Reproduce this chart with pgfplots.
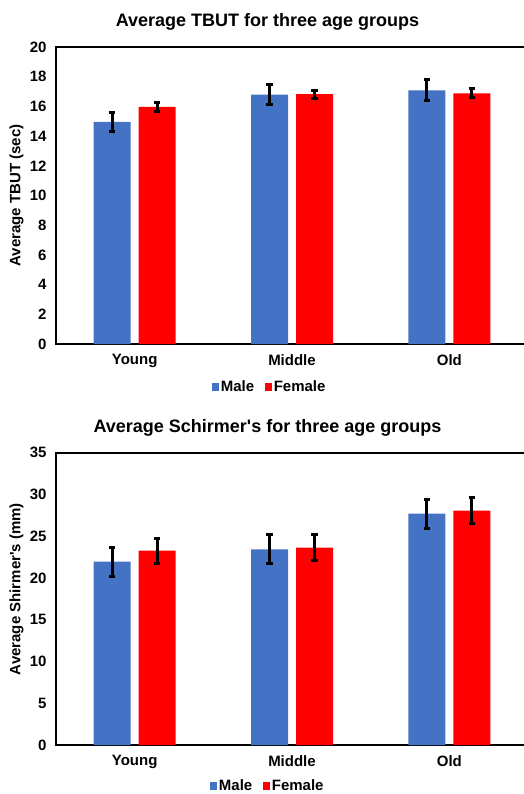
\documentclass[border=0pt]{standalone}
\usepackage{fontspec}
\setmainfont{Liberation Sans}
\usepackage{pgfplots}
\pgfplotsset{compat=1.18}
\definecolor{mblue}{HTML}{4472C4}
\definecolor{fred}{HTML}{FF0000}
\pgfplotsset{
  mystyle/.style={
    scale only axis, width=472bp,
    xmin=-0.5, xmax=2.5, ymin=0,
    ybar=8bp, bar width=37bp,
    xtick={0,1,2}, xticklabels={Young,Middle,Old},
    axis line style={line width=2bp, black},
    major tick length=0pt,
    /pgf/number format/assume math mode=true,
    ticklabel style={font=\fontsize{15bp}{18bp}\selectfont\bfseries},
    y tick label style={xshift=-6bp},
    x tick label style={yshift=-7bp},
    ylabel style={font=\fontsize{15bp}{18bp}\selectfont\bfseries},
    title style={font=\fontsize{18bp}{21bp}\selectfont\bfseries},
    legend style={draw=none, font=\fontsize{15bp}{18bp}\selectfont\bfseries,
      legend columns=2, nodes={inner sep=1.5bp},
      /tikz/every even column/.append style={column sep=9bp}},
    legend image code/.code={\fill[##1] (0bp,-3.8bp) rectangle (7.6bp,3.8bp);},
  },
  myerr/.style={
    error bars/y dir=both, error bars/y explicit,
    error bars/error bar style={line width=3bp, black},
    error bars/error mark options={rotate=90, mark size=3.2bp, line width=3bp, black},
  }
}
\begin{document}
\begin{tikzpicture}
\path[use as bounding box] (0,0) rectangle (524bp,-794bp);
\begin{axis}[mystyle, at={(56bp,-344bp)}, anchor=south west,
  height=297bp, ymax=20, ytick={0,2,...,20},
  ylabel={Average TBUT (sec)},
  ylabel style={at={(axis description cs:-0.0837,0.5)}, anchor=center},
  title={Average TBUT for three age groups},
  title style={at={(axis description cs:0.448,1)}, anchor=base, yshift=15bp},
  legend style={at={(axis description cs:0.452,-0.145)}, anchor=center}]
\addplot[fill=mblue, draw=none, myerr] coordinates {(0,14.95) +- (0,0.65) (1,16.80) +- (0,0.67) (2,17.08) +- (0,0.70)};
\addplot[fill=fred, draw=none, myerr] coordinates {(0,15.97) +- (0,0.30) (1,16.83) +- (0,0.27) (2,16.88) +- (0,0.30)};
\legend{Male, Female}
\end{axis}
\begin{axis}[mystyle, at={(56bp,-745bp)}, anchor=south west,
  height=292.5bp, ymax=35, ytick={0,5,...,35},
  ylabel={Average Shirmer\textquotesingle s (mm)},
  ylabel style={at={(axis description cs:-0.0837,0.533)}, anchor=center},
  title={Average Schirmer\textquotesingle s for three age groups},
  title style={at={(axis description cs:0.448,1)}, anchor=base, yshift=14bp},
  legend style={at={(axis description cs:0.448,-0.140)}, anchor=center}]
\addplot[fill=mblue, draw=none, myerr] coordinates {(0,21.93) +- (0,1.75) (1,23.42) +- (0,1.75) (2,27.68) +- (0,1.72)};
\addplot[fill=fred, draw=none, myerr] coordinates {(0,23.25) +- (0,1.52) (1,23.61) +- (0,1.56) (2,28.04) +- (0,1.56)};
\legend{Male, Female}
\end{axis}
\end{tikzpicture}
\end{document}
